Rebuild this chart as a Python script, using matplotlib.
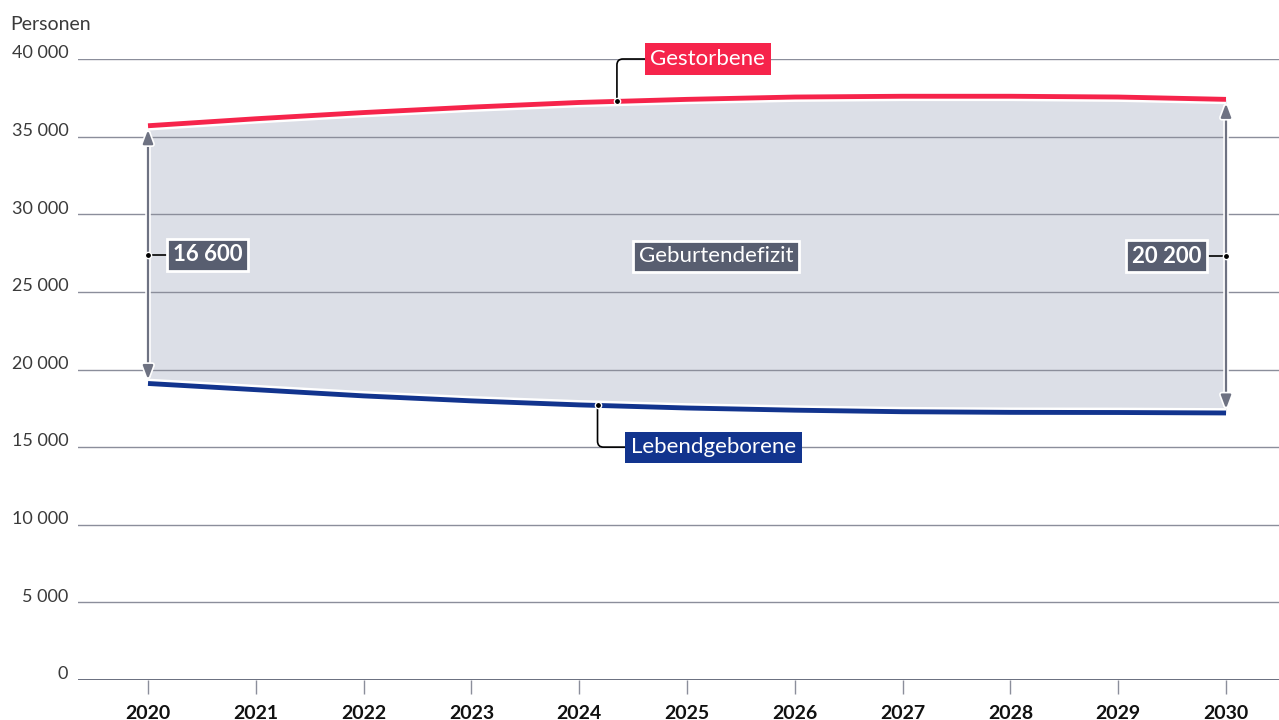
import matplotlib
matplotlib.use("Agg")
import matplotlib.pyplot as plt
import matplotlib.patheffects as pe
import numpy as np

# ---------------------------------------------------------------------------
# Data
# ---------------------------------------------------------------------------
years       = [2020, 2021, 2022, 2023, 2024, 2025, 2026, 2027, 2028, 2029, 2030]
gestorbene  = [35700, 36150, 36550, 36900, 37200, 37400, 37550, 37600, 37600, 37550, 37400]
lebend      = [19100, 18700, 18300, 17980, 17720, 17520, 17380, 17280, 17240, 17230, 17200]
yticks      = [0, 5000, 10000, 15000, 20000, 25000, 30000, 35000, 40000]
ytick_labels = ["0", "5 000", "10 000", "15 000", "20 000", "25 000",
                "30 000", "35 000", "40 000"]
diff_labels = ["16 600", "20 200"]

RED    = "#f6244b"
BLUE   = "#12348e"
FILL   = "#dcdfe7"
GRID   = "#8b8e9b"
DARK   = "#585e70"
TEXT   = "#3a3a3a"

plt.rcParams["font.family"] = ["Lato", "DejaVu Sans"]

fig = plt.figure(figsize=(12.79, 7.2), dpi=100)
ax = fig.add_axes([78 / 1279, 40 / 720, 1201 / 1279, 621 / 720])
ax.set_xlim(2020 - 70 / 107.8, 2030 + 53 / 107.8)
ax.set_ylim(0, 40000)
for s in ax.spines.values():
    s.set_visible(False)
ax.set_yticks([])
ax.set_xticks(years)
ax.set_xticklabels([str(y) for y in years], fontsize=14, fontweight="bold",
                   color="#111111")
ax.tick_params(axis="x", length=10, width=1, color=GRID, pad=8)

x = np.array(years, dtype=float)
g = np.array(gestorbene, dtype=float)
l = np.array(lebend, dtype=float)

# fill between curves
ax.fill_between(x, l, g, color=FILL, lw=0, zorder=1)

# grid lines + y labels
for v, lab in zip(yticks, ytick_labels):
    if v == 0:
        ax.axhline(0, color="#5b6072", lw=2, zorder=2)
    else:
        ax.axhline(v, color=GRID, lw=1, zorder=2)
    ax.annotate(lab, xy=(0, v), xycoords=("axes fraction", "data"),
                xytext=(-7, 0.5), textcoords="offset points",
                ha="right", va="baseline", fontsize=13, color=TEXT,
                annotation_clip=False)
ax.text(10 / 1279, 1 - 30 / 720, "Personen", transform=fig.transFigure,
        fontsize=14, color=TEXT, va="baseline", ha="left")

white = [pe.Stroke(linewidth=7, foreground="white"), pe.Normal()]

# difference arrows
for i in (0, -1):
    ax.annotate("", xy=(x[i], g[i]), xytext=(x[i], l[i]),
                arrowprops=dict(arrowstyle="<|-|>,head_length=0.8,head_width=0.3",
                                color="#6e7282", lw=1.6, shrinkA=3, shrinkB=3,
                                path_effects=[pe.Stroke(linewidth=4, foreground="white"),
                                              pe.Normal()]),
                zorder=3)

# lines
ax.plot(x, g, color=RED, lw=3.5, solid_capstyle="butt", zorder=4,
        path_effects=white)
ax.plot(x, l, color=BLUE, lw=3.5, solid_capstyle="butt", zorder=4,
        path_effects=white)

# series labels with connectors
def series_label(xp, yvals, text, color, tx, ty):
    yp = np.interp(xp, x, yvals)
    ax.plot([xp], [yp], "o", color="black", ms=4.5, zorder=6,
            markeredgecolor="white", markeredgewidth=1)
    ax.annotate(text, xy=(xp, yp), xytext=(tx, ty),
                ha="left", va="center", fontsize=16, color="white",
                bbox=dict(boxstyle="square,pad=0.25", fc=color, ec="none"),
                arrowprops=dict(arrowstyle="-", color="black", lw=1.2,
                                connectionstyle="angle,angleA=0,angleB=90,rad=6",
                                shrinkA=0, shrinkB=0),
                zorder=5)

series_label(2024.35, g, "Gestorbene", RED, 2024.66, 40000)
series_label(2024.17, l, "Lebendgeborene", BLUE, 2024.48, 15000)

# difference labels
for i, lab, tx, ha in ((0, diff_labels[0], 2020.23, "left"),
                       (-1, diff_labels[1], 2029.77, "right")):
    ym = (g[i] + l[i]) / 2
    ax.plot([x[i]], [ym], "o", color="black", ms=4.5, zorder=6,
            markeredgecolor="white", markeredgewidth=1)
    ax.plot([x[i], tx], [ym, ym], color="black", lw=1.2, zorder=5)
    ax.text(tx, ym, lab, ha=ha, va="center", fontsize=16, fontweight="bold",
            color="white", zorder=6,
            bbox=dict(boxstyle="square,pad=0.25", fc=DARK, ec="white", lw=2))

ax.text(2025.27, 27300, "Geburtendefizit", ha="center", va="center",
        fontsize=16, color="white", zorder=6,
        bbox=dict(boxstyle="square,pad=0.25", fc=DARK, ec="white", lw=2))

fig.savefig("out.png", dpi=100)
